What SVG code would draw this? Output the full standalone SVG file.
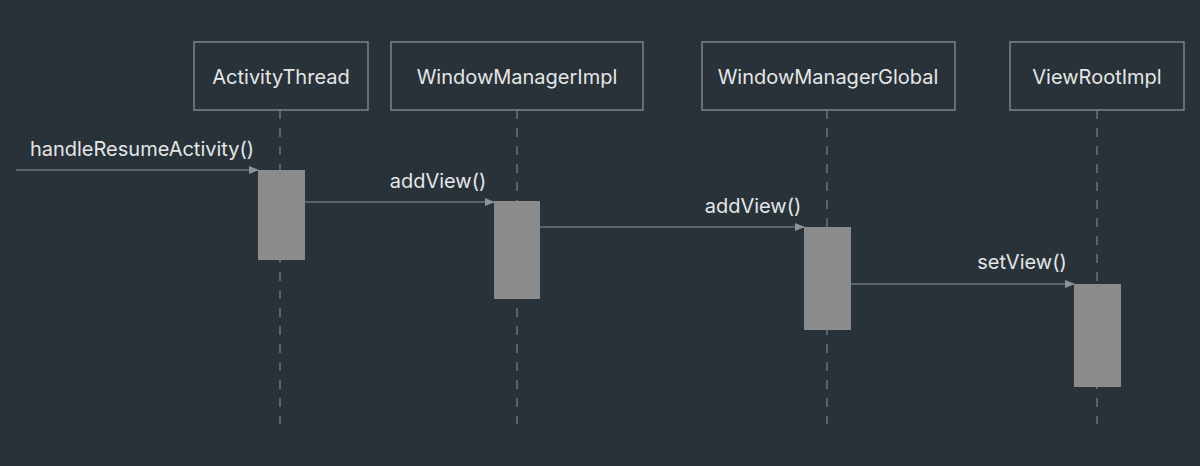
<svg xmlns="http://www.w3.org/2000/svg" width="1200" height="466" viewBox="0 0 1200 466">
<style>
.bg{fill:#293238}
.obj{fill:none;stroke:#7d8489;stroke-width:1.5}
.lbl{font-family:Inter,"Noto Sans",sans-serif;font-size:20px;fill:#e4e6e7}
.life{stroke:#7d8489;stroke-width:1.2;stroke-dasharray:9,9}
.act{fill:#8b8b8b}
.msg{stroke:#8c9296;stroke-width:1.2;fill:none;marker-end:url(#ah)}
</style>
<defs>
<marker id="ah" markerWidth="10" markerHeight="8" refX="9" refY="4" orient="auto" markerUnits="userSpaceOnUse">
<path d="M0,0 L10,4 L0,8 Z" fill="#8c9296"/>
</marker>
</defs>
<rect class="bg" x="0" y="0" width="1200" height="466"/>
<g id="lifelines">
<line class="life" x1="280" y1="110" x2="280" y2="424"/>
<line class="life" x1="517" y1="110" x2="517" y2="424"/>
<line class="life" x1="827" y1="110" x2="827" y2="424"/>
<line class="life" x1="1097" y1="110" x2="1097" y2="424"/>
</g>
<g id="ActivityThread">
<rect class="obj" x="194" y="42" width="174" height="68"/>
<text class="lbl" x="281" y="84" text-anchor="middle">ActivityThread</text>
<rect class="act" x="258" y="170" width="47" height="90"/>
</g>
<g id="WindowManagerImpl">
<rect class="obj" x="391" y="42" width="252" height="68"/>
<text class="lbl" x="517" y="84" text-anchor="middle">WindowManagerImpl</text>
<rect class="act" x="494" y="201" width="46" height="98"/>
</g>
<g id="WindowManagerGlobal">
<rect class="obj" x="702" y="42" width="253" height="68"/>
<text class="lbl" x="828" y="84" text-anchor="middle">WindowManagerGlobal</text>
<rect class="act" x="804" y="227" width="47" height="103"/>
</g>
<g id="ViewRootImpl">
<rect class="obj" x="1010" y="42" width="174" height="68"/>
<text class="lbl" x="1097" y="84" text-anchor="middle">ViewRootImpl</text>
<rect class="act" x="1074" y="284" width="47" height="103"/>
</g>
<g id="connectors">
<line class="msg" x1="16" y1="170" x2="258" y2="170"/>
<text class="lbl" x="142" y="156" text-anchor="middle">handleResumeActivity()</text>
<line class="msg" x1="305" y1="202" x2="494" y2="202"/>
<text class="lbl" x="438" y="188" text-anchor="middle">addView()</text>
<line class="msg" x1="540" y1="227" x2="804" y2="227"/>
<text class="lbl" x="753" y="213" text-anchor="middle">addView()</text>
<line class="msg" x1="851" y1="284" x2="1074" y2="284"/>
<text class="lbl" x="1022" y="269" text-anchor="middle">setView()</text>
</g>
</svg>
